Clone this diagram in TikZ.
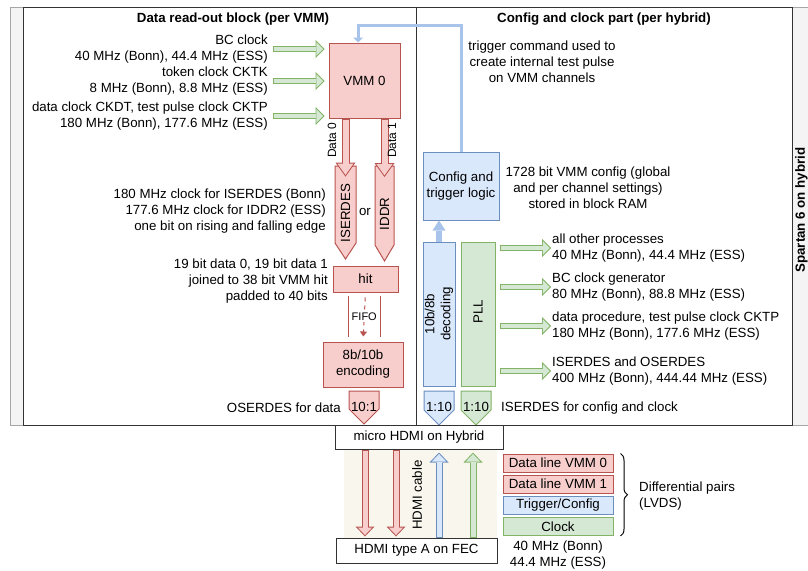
\documentclass[tikz,border=0pt]{standalone}
\usepackage{fontspec}
\setmainfont{Liberation Sans}
\usetikzlibrary{arrows.meta, positioning, decorations.pathreplacing}
\definecolor{redfill}{HTML}{F8CECC}
\definecolor{redline}{HTML}{B85450}
\definecolor{bluefill}{HTML}{DAE8FC}
\definecolor{blueline}{HTML}{6C8EBF}
\definecolor{trigblue}{HTML}{A9C4EB}
\definecolor{greenfill}{HTML}{D5E8D4}
\definecolor{greenline}{HTML}{82B366}
\definecolor{cablefill}{HTML}{F9F7ED}
\definecolor{framegray}{HTML}{F4F4F4}

\tikzset{
  redbox/.style={draw=redline, fill=redfill, line width=1pt, inner sep=0pt},
  bluebox/.style={draw=blueline, fill=bluefill, line width=1pt, inner sep=0pt},
  greenbox/.style={draw=greenline, fill=greenfill, line width=1pt, inner sep=0pt},
  plainbox/.style={draw=black!80, fill=white, line width=1pt, inner sep=0pt},
  txt/.style={inner sep=0pt},
  ttl/.style={inner sep=0pt, font=\fontsize{13.3}{16}\selectfont\bfseries},
  small/.style={font=\fontsize{12}{14}\selectfont},
  % block arrows: outline pass, then fill pass
  clkarrow/.style={draw=greenline, line width=6pt, -{Triangle[length=9pt,width=18pt,line width=0pt]},
    postaction={draw=greenfill, line width=4pt, shorten <=1pt,
      -{Triangle[length=6.6pt,width=13.2pt,sep=1.41pt,line width=0pt]}}},
  datarrow/.style={draw=redline, line width=8pt, -{Triangle[length=14pt,width=20pt,line width=0pt]},
    postaction={draw=redfill, line width=6pt, shorten <=1pt,
      -{Triangle[length=11.3pt,width=16.1pt,sep=1.72pt,line width=0pt]}}},
  cablearrow/.style 2 args={draw=#2, line width=7pt, -{Triangle[length=10pt,width=19pt,line width=0pt]},
    postaction={draw=#1, line width=5pt, shorten <=1pt,
      -{Triangle[length=7.55pt,width=14.35pt,sep=1.45pt,line width=0pt]}}},
  decarrow/.style={draw=trigblue, line width=6pt, -{Triangle[length=10pt,width=13pt,line width=0pt]}},
  trigline/.style={draw=trigblue, line width=3pt, -{Triangle[length=5pt,width=10pt,line width=0pt]}},
  fifoarrow/.style={draw=redline, line width=1pt, dash pattern=on 4pt off 4pt,
    -{Triangle[length=5pt,width=7pt]}, shorten <=5pt, shorten >=5pt},
}

\begin{document}
\begin{tikzpicture}[x=1pt, y=-1pt, font=\fontsize{13.3}{16}\selectfont]
  \useasboundingbox (0,0) rectangle (808,570);

  % FPGA frame
  \fill[framegray] (10,7) rectangle (808,425);
  \draw[gray!70, line width=1pt] (808,7) -- (10,7) -- (10,425) -- (808,425);
  \draw[black!80, line width=1pt, fill=white] (23,7) rectangle (416,425);
  \draw[black!80, line width=1pt, fill=white] (416,7) rectangle (792,425);
  \node[ttl] (rottl) at (233,19) {Data read-out block (per VMM)};
  \node[ttl] (cfgttl) at (604,19) {Config and clock part (per hybrid)};
  \node[ttl, rotate=90] (fpga) at (801.5,210) {Spartan 6 on hybrid};

  % Read-out chain
  \node[redbox, minimum width=71pt, minimum height=75pt] (vmm) at (364.5,80.5) {VMM 0};
  \node[txt, anchor=east, align=right] (bcclk) at (268,49) {BC clock\\40 MHz (Bonn), 44.4 MHz (ESS)};
  \node[txt, anchor=east, align=right] (cktk) at (268,81) {token clock CKTK\\8 MHz (Bonn), 8.8 MHz (ESS)};
  \node[txt, anchor=east, align=right] (ckdt) at (268,116) {data clock CKDT, test pulse clock CKTP\\180 MHz (Bonn), 177.6 MHz (ESS)};
  \foreach \t in {bcclk, cktk, ckdt}
    \draw[clkarrow] ([xshift=5pt]\t.east) -- ([xshift=-4pt]vmm.west |- \t.east);

  \draw[redbox] (335,166) -- (356,166) -- (356,243) -- (345.5,259) -- (335,243) -- cycle;
  \draw[redbox] (375,166) -- (394,166) -- (394,245) -- (384.5,261) -- (375,245) -- cycle;
  \node[txt, rotate=90] (iserdes) at (345.5,213) {ISERDES};
  \node[txt, rotate=90] (iddr) at (384.5,214) {IDDR};
  \node[txt] (ortxt) at (365,212) {or};
  \draw[datarrow, shorten >=7pt] (vmm.south -| iserdes.center) -- (iserdes.east);
  \draw[datarrow, shorten >=20.5pt] (vmm.south -| iddr.center) -- (iddr.east);
  \node[txt, small, rotate=90] (d0) at (332,140) {Data 0};
  \node[txt, small, rotate=90] (d1) at (392,140) {Data 1};
  \node[txt, anchor=east, align=right] (isrtxt) at (326,211) {180 MHz clock for ISERDES (Bonn)\\177.6 MHz clock for IDDR2 (ESS)\\one bit on rising and falling edge};

  \node[redbox, minimum width=65pt, minimum height=26pt] (hit) at (365.5,279) {hit};
  \node[txt, anchor=east, align=right] (hittxt) at (328,281) {19 bit data 0, 19 bit data 1\\joined to 38 bit VMM hit\\padded to 40 bits};

  % FIFO
  \draw[redline, line width=1pt] (348,296) -- (348,337) (380,296) -- (380,337);
  \node[redbox, minimum width=80pt, minimum height=45pt, align=center] (enc) at (363,364.5) {8b/10b\\encoding};
  \draw[fifoarrow] (hit.south) -- (enc.north)
    node[midway, fill=white, inner sep=1pt, font=\fontsize{11}{13}\selectfont] (fifo) {FIFO};

  \draw[redbox] (349,391) -- (379,391) -- (379,409) -- (364,424) -- (349,409) -- cycle;
  \node[txt] (osr) at (364,407) {10:1};
  \node[txt, anchor=east] (osrtxt) at (341,408) {OSERDES for data};

  % Config and clock part
  \node[bluebox, minimum width=76pt, minimum height=68pt, align=center] (cfg) at (461,186) {Config and\\trigger logic};
  \node[txt, align=center] (cfgtxt) at (588,188) {1728 bit VMM config (global\\and per channel settings)\\stored in block RAM};
  \node[txt, align=center] (trigtxt) at (542,62) {trigger command used to\\create internal test pulse\\on VMM channels};
  \coordinate (trigbend) at (358,25);
  \draw[trigline] (cfg.north) |- (trigbend) -- (trigbend |- vmm.north);

  \node[bluebox, minimum width=32pt, minimum height=144pt] (dec) at (439,314) {};
  \node[txt, rotate=90, align=center] (dectxt) at (dec.center) {10b/8b\\decoding};
  \node[greenbox, minimum width=34pt, minimum height=144pt] (pll) at (478,314) {};
  \node[txt, rotate=90] (plltxt) at (478,312) {PLL};
  \draw[decarrow] (dec.north) -- (cfg.south -| dec.north);

  \node[txt, anchor=west, align=left] (clk1) at (552,248) {all other processes\\40 MHz (Bonn), 44.4 MHz (ESS)};
  \node[txt, anchor=west, align=left] (clk2) at (552,287) {BC clock generator\\80 MHz (Bonn), 88.8 MHz (ESS)};
  \node[txt, anchor=west, align=left] (clk3) at (552,326) {data procedure, test pulse clock CKTP\\180 MHz (Bonn), 177.6 MHz (ESS)};
  \node[txt, anchor=west, align=left] (clk4) at (552,371) {ISERDES and OSERDES\\400 MHz (Bonn), 444.44 MHz (ESS)};
  \foreach \t in {clk1, clk2, clk3, clk4}
    \draw[clkarrow] ([xshift=4pt]pll.east |- \t.west) -- ([xshift=-1pt]\t.west);

  \draw[bluebox] (424,391) -- (454,391) -- (454,410) -- (439,425) -- (424,410) -- cycle;
  \draw[greenbox] (461,391) -- (491,391) -- (491,410) -- (476,425) -- (461,410) -- cycle;
  \node[txt] (isc1) at (439,407) {1:10};
  \node[txt] (isc2) at (476,407) {1:10};
  \node[txt, anchor=west] (isctxt) at (501,408) {ISERDES for config and clock};

  % HDMI cable
  \fill[cablefill] (344,449) rectangle (497,538);
  \node[plainbox, minimum width=168pt, minimum height=24pt] (mhdmi) at (419,437) {micro HDMI on Hybrid};
  \node[plainbox, minimum width=161pt, minimum height=25pt] (fec) at (416.5,550.5) {HDMI type A on FEC};
  \draw[cablearrow={redfill}{redline}, shorten >=1pt] ([xshift=-54pt]mhdmi.south) -- ([xshift=-54pt]mhdmi.south |- fec.north);
  \draw[cablearrow={redfill}{redline}, shorten >=1pt] ([xshift=-23pt]mhdmi.south) -- ([xshift=-23pt]mhdmi.south |- fec.north);
  \draw[cablearrow={bluefill}{blueline}, shorten >=3pt] ([xshift=20pt]mhdmi.south |- fec.north) -- ([xshift=20pt]mhdmi.south);
  \draw[cablearrow={greenfill}{greenline}, shorten >=3pt] ([xshift=54pt]mhdmi.south |- fec.north) -- ([xshift=54pt]mhdmi.south);
  \node[txt, rotate=90] (cbl) at (417,495) {HDMI cable};

  % Legend
  \node[redbox, minimum width=110pt, minimum height=18pt] (lgd0) at (558,463) {Data line VMM 0};
  \node[redbox, minimum width=110pt, minimum height=18pt] (lgd1) at (558,484) {Data line VMM 1};
  \node[bluebox, minimum width=110pt, minimum height=18pt] (lgd2) at (558,505.5) {Trigger/Config};
  \node[greenbox, minimum width=110pt, minimum height=18pt] (lgd3) at (558,526.5) {Clock};
  \node[txt, align=center] (lgdfreq) at (558,555) {40 MHz (Bonn)\\44.4 MHz (ESS)};
  \draw[line width=1pt, decorate, decoration={brace, amplitude=7pt}]
    ([xshift=7pt]lgd0.north east) -- ([xshift=7pt]lgd3.south east);
  \node[txt, anchor=west, align=left] (lvds) at (639,496) {Differential pairs\\(LVDS)};
\end{tikzpicture}
\end{document}
